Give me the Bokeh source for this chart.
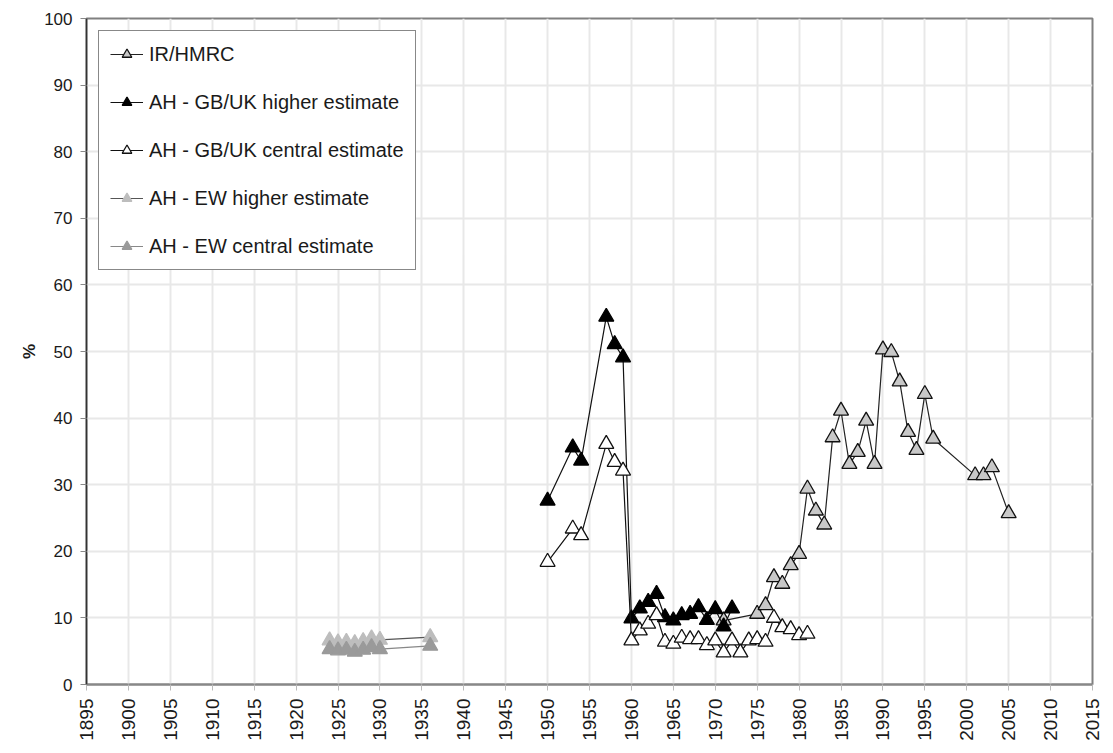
import math
from bokeh.plotting import figure
from bokeh.models import FixedTicker, Legend
from bokeh.embed import file_html
from bokeh.resources import INLINE

# ---- data ----
ir_years = [1971, 1975, 1976, 1977, 1978, 1979, 1980, 1981, 1982, 1983, 1984, 1985, 1986,
            1987, 1988, 1989, 1990, 1991, 1992, 1993, 1994, 1995, 1996, 2001, 2002, 2003, 2005]
ir_vals = [9.6, 10.6, 11.9, 16.1, 15.1, 17.9, 19.6, 29.4, 26.1, 24.0, 37.1, 41.1, 33.1,
           34.9, 39.6, 33.1, 50.3, 49.9, 45.5, 37.9, 35.2, 43.6, 36.9, 31.4, 31.4, 32.6, 25.7]

gbh_years = [1950, 1953, 1954, 1957, 1958, 1959, 1960, 1961, 1962, 1963, 1964, 1965,
             1966, 1967, 1968, 1969, 1970, 1971, 1972]
gbh_vals = [27.6, 35.6, 33.6, 55.2, 51.1, 49.1, 9.9, 11.4, 12.4, 13.6, 10.1, 9.6,
            10.4, 10.6, 11.6, 9.7, 11.3, 8.7, 11.4]

gbc_years = [1950, 1953, 1954, 1957, 1958, 1959, 1960, 1961, 1962, 1963, 1964, 1965,
             1966, 1967, 1968, 1969, 1970, 1971, 1972, 1973, 1974, 1975, 1976, 1977,
             1978, 1979, 1980, 1981]
gbc_vals = [18.4, 23.4, 22.4, 36.1, 33.4, 32.1, 6.6, 8.1, 9.1, 10.4, 6.4, 6.1,
            7.0, 6.8, 6.8, 5.9, 6.6, 4.8, 6.6, 4.8, 6.6, 6.8, 6.4, 10.0,
            8.6, 8.3, 7.4, 7.6]

ewh_years = [1924, 1925, 1926, 1927, 1928, 1929, 1930, 1936]
ewh_vals = [6.6, 6.3, 6.4, 6.2, 6.5, 6.9, 6.7, 7.1]

ewc_years = [1924, 1925, 1926, 1927, 1928, 1929, 1930, 1936]
ewc_vals = [5.3, 5.1, 5.2, 4.9, 5.2, 5.6, 5.3, 5.8]

x_ticks = list(range(1895, 2016, 5))
y_ticks = list(range(0, 101, 10))

FONT = "Liberation Sans"

p = figure(width=1108, height=744, x_range=(1895, 2015), y_range=(0, 100),
           output_backend="svg", toolbar_location=None,
           min_border_left=86, min_border_right=16, min_border_top=18, min_border_bottom=60)

p.background_fill_color = "white"
p.border_fill_color = "white"
p.outline_line_color = "#808080"
p.outline_line_width = 2

p.xaxis.ticker = FixedTicker(ticks=x_ticks)
p.yaxis.ticker = FixedTicker(ticks=y_ticks)
p.xgrid.ticker = FixedTicker(ticks=x_ticks)
p.ygrid.ticker = FixedTicker(ticks=y_ticks)
p.xgrid.grid_line_color = "#e8e8e8"
p.ygrid.grid_line_color = "#e8e8e8"
p.xgrid.grid_line_width = 2
p.ygrid.grid_line_width = 2

for ax in (p.xaxis[0], p.yaxis[0]):
    ax.major_label_text_font = FONT
    ax.major_label_text_color = "#1a1a1a"
    ax.minor_tick_line_color = None
    ax.major_tick_out = 6
    ax.major_tick_in = 0

p.xaxis.major_label_text_font_size = "19px"
p.yaxis.major_label_text_font_size = "17px"
p.xaxis.major_label_orientation = math.pi / 2
p.xaxis.major_label_standoff = 8
p.xaxis.axis_line_color = "#888888"
p.xaxis.axis_line_width = 2
p.xaxis.major_tick_line_color = "#bbbbbb"
p.yaxis.axis_line_color = "#333333"
p.yaxis.axis_line_width = 1.5
p.yaxis.major_tick_line_color = "#888888"
p.yaxis.major_label_standoff = 8
p.yaxis.axis_label = "%"
p.yaxis.axis_label_text_font = FONT
p.yaxis.axis_label_text_font_size = "17px"
p.yaxis.axis_label_text_font_style = "bold"
p.yaxis.axis_label_text_color = "#1a1a1a"
p.yaxis.axis_label_standoff = 2

items = []

def series(xs, ys, label, line_color, fill_color, edge_color):
    r1 = p.line(xs, ys, line_color=line_color, line_width=1.2)
    r2 = p.scatter(xs, ys, marker="triangle", size=15, fill_color=fill_color,
                   line_color=edge_color, line_width=1.3)
    items.append((label, [r1, r2]))

series(ir_years, ir_vals, "IR/HMRC", "#222222", "#c8c8c8", "#111111")
series(gbh_years, gbh_vals, "AH - GB/UK higher estimate", "#111111", "#000000", "#000000")
series(gbc_years, gbc_vals, "AH - GB/UK central estimate", "#111111", "#ffffff", "#111111")
series(ewh_years, ewh_vals, "AH - EW higher estimate", "#555555", "#bdbdbd", "#bdbdbd")
series(ewc_years, ewc_vals, "AH - EW central estimate", "#888888", "#9a9a9a", "#9a9a9a")

legend = Legend(items=items, location="top_left", margin=12,
                label_text_font=FONT, label_text_font_size="20px", label_text_color="#1a1a1a",
                glyph_width=33, glyph_height=24, label_height=24, spacing=24,
                padding=11, border_line_color="#111111", border_line_width=1.2,
                background_fill_color="white", background_fill_alpha=1.0,
                label_standoff=6)
p.add_layout(legend)

open("out.html", "w").write(file_html(p, INLINE))
